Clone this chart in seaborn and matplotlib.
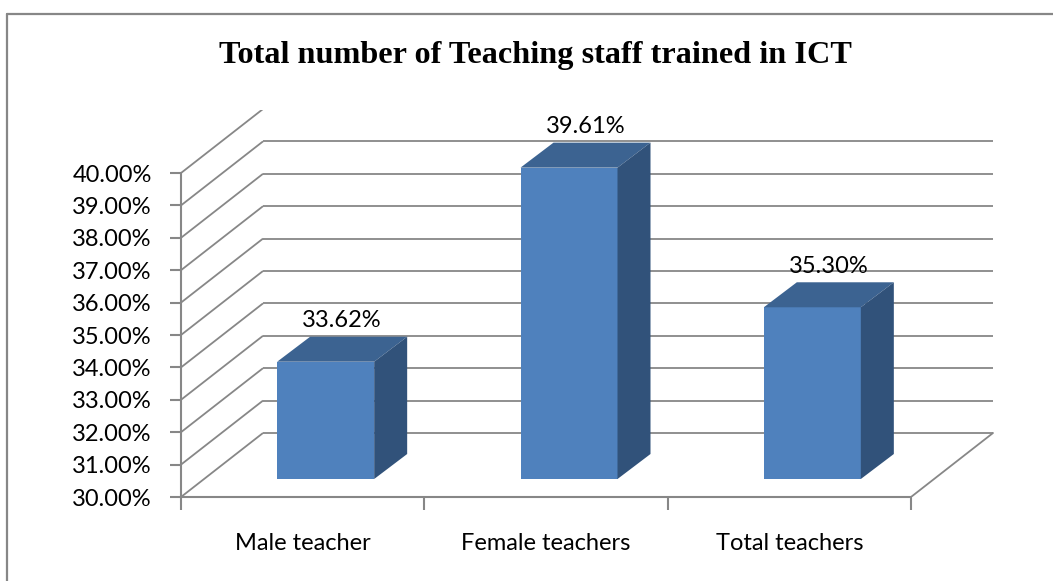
import matplotlib
matplotlib.use("Agg")
import matplotlib.pyplot as plt
from matplotlib.patches import Polygon
from matplotlib.lines import Line2D
import seaborn as sns
import numpy as np

# Data
categories = ["Male teacher", "Female teachers", "Total teachers"]
values = [33.62, 39.61, 35.30]
value_labels = ["33.62%", "39.61%", "35.30%"]
y_ticks = [30, 31, 32, 33, 34, 35, 36, 37, 38, 39, 40]

sns.set_theme(style="white")
plt.rcParams["font.family"] = ["Lato", "DejaVu Sans"]

W, H, DPI = 1053, 581, 100
fig = plt.figure(figsize=(W / DPI, H / DPI), dpi=DPI)

# Axes box in pixels: front-left corner of the floor to back-right top of wall
ax_left, ax_right, ax_bottom, ax_top = 181, 994, 497, 110
ax = fig.add_axes([ax_left / W, (H - ax_bottom) / H,
                   (ax_right - ax_left) / W, (ax_bottom - ax_top) / H])

px_per_cat = (911 - 181) / 3.0
px_per_pct = (497 - 173) / 10.0
x_lo = -0.5
x_hi = x_lo + (ax_right - ax_left) / px_per_cat
y_lo = 30
y_hi = y_lo + (ax_bottom - ax_top) / px_per_pct

# Oblique projection offsets (data units)
DX = 82 / px_per_cat      # full floor depth, x
DY = 64 / px_per_pct      # full floor depth, y
FX = 23 / px_per_cat      # bar front plane, x
FY = 18 / px_per_pct      # bar front plane, y
BX = 33 / px_per_cat      # bar depth, x
BY = 25 / px_per_pct      # bar depth, y
BAR_W = 97 / px_per_cat

grid_col = "#878787"
front_col = "#4F81BD"
top_col = "#3C6391"
side_col = "#31527A"
FS = 17

# Back wall and side wall grid
for v in y_ticks:
    ax.plot([x_lo, x_lo + DX], [v, v + DY], color=grid_col, lw=1.3,
            solid_capstyle="butt", zorder=1)
    ax.plot([x_lo + DX, 2.5 + DX], [v + DY, v + DY], color=grid_col, lw=1.3,
            solid_capstyle="butt", zorder=1)
# Right edge of the floor
ax.plot([2.5, 2.5 + DX], [y_lo, y_lo + DY], color=grid_col, lw=1.3, zorder=1)

# Front faces of the bars
sns.barplot(x=categories, y=values, width=BAR_W, color=front_col,
            saturation=1, ax=ax, zorder=3, linewidth=0)

for p, v, lab in zip(ax.patches, values, value_labels):
    x0 = p.get_x() + FX
    p.set_x(x0)
    p.set_y(y_lo + FY)
    p.set_height(v - y_lo)
    x1 = x0 + BAR_W
    top = v + FY
    bot = y_lo + FY
    ax.add_patch(Polygon([(x0, top), (x1, top), (x1 + BX, top + BY), (x0 + BX, top + BY)],
                         closed=True, facecolor=top_col, edgecolor="none", zorder=3))
    ax.add_patch(Polygon([(x1, bot), (x1, top), (x1 + BX, top + BY), (x1 + BX, bot + BY)],
                         closed=True, facecolor=side_col, edgecolor="none", zorder=3))
    ax.annotate(lab, xy=((x0 + x1 + BX) / 2, top + BY), xytext=(0, 7),
                textcoords="offset points", ha="center", va="baseline",
                fontsize=FS, color="black", zorder=4)

ax.set_xlim(x_lo, x_hi)
ax.set_ylim(y_lo, y_hi)
ax.set_xlabel("")
ax.set_ylabel("")

# Axis spines only on the front plane
for s in ["top", "right"]:
    ax.spines[s].set_visible(False)
for s in ["left", "bottom"]:
    ax.spines[s].set_color(grid_col)
    ax.spines[s].set_linewidth(1.5)
ax.spines["left"].set_bounds(30, 40)
ax.spines["bottom"].set_bounds(-0.5, 2.5)

ax.set_yticks(y_ticks)
ax.set_yticklabels([f"{t:.2f}%" for t in y_ticks])
ax.tick_params(axis="y", which="major", left=True, length=8, width=1.5,
               color=grid_col, labelsize=FS, pad=13, labelcolor="black")

ax.set_xticks([0, 1, 2])
ax.set_xticklabels(categories)
ax.set_xticks([-0.5, 0.5, 1.5, 2.5], minor=True)
ax.tick_params(axis="x", which="major", bottom=False, length=0, labelsize=FS,
               pad=26, labelcolor="black")
ax.tick_params(axis="x", which="minor", bottom=True, length=9, width=1.5,
               color=grid_col)
ax.grid(False)
ax.patch.set_alpha(0)

# Title
fig.text(535 / W, (H - 63) / H, "Total number of Teaching staff trained in ICT",
         ha="center", va="baseline", fontsize=23.2, fontweight="bold",
         family=["Liberation Serif", "DejaVu Serif"], color="black")

# Chart frame
fig.add_artist(Line2D([6.5 / W, 6.5 / W], [0, (H - 13.5) / H], color=grid_col,
                      lw=1.6, transform=fig.transFigure))
fig.add_artist(Line2D([6.5 / W, 1.0], [(H - 13.5) / H, (H - 13.5) / H], color=grid_col,
                      lw=1.6, transform=fig.transFigure))

fig.savefig("out.png", dpi=DPI)
